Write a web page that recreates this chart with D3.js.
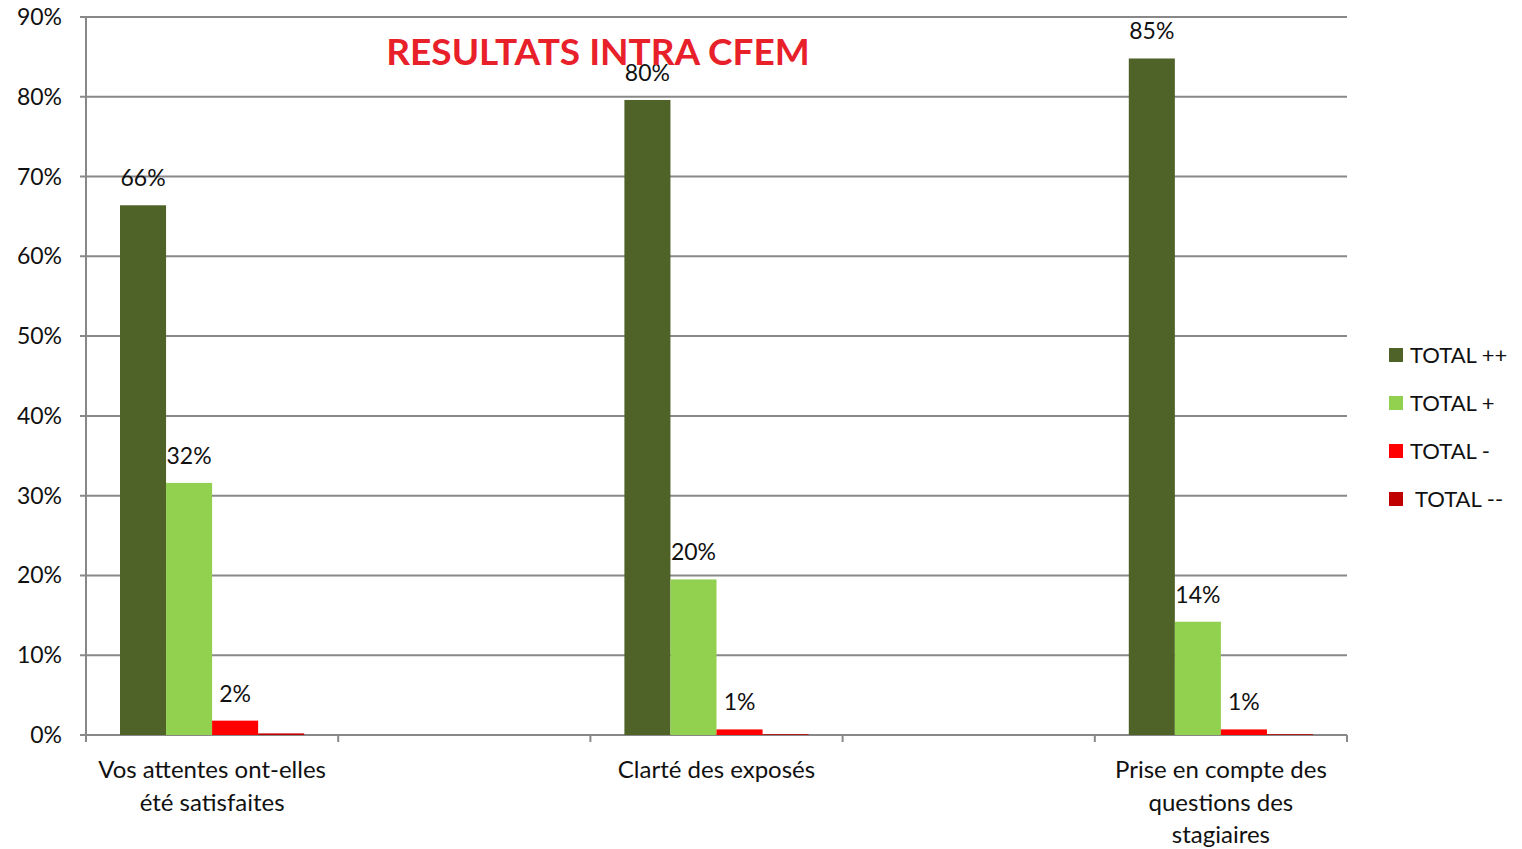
<!DOCTYPE html>
<html lang="fr">
<head>
<meta charset="UTF-8">
<title>RESULTATS INTRA CFEM</title>
<script src="https://d3js.org/d3.v7.min.js"></script>
<style>
  body { margin: 0; background: #fff; }
  svg { display: block; font-family: "Lato", "Open Sans", sans-serif; }
</style>
</head>
<body>
<svg width="1522" height="849"></svg>
<script>
// categories (two blank slots between the questions, like the original sheet)
const categories = [
  ["Vos attentes ont-elles", "été satisfaites"],
  [],
  ["Clarté des exposés"],
  [],
  ["Prise en compte des", "questions des", "stagiaires"]
];
const seriesNames = ["TOTAL ++", "TOTAL +", "TOTAL -", " TOTAL --"];
const seriesColors = ["#4F6228", "#92D050", "#FF0000", "#C00000"];
// values per category, in series order (null = empty slot)
const values = [
  [0.664, 0.316, 0.018, 0.002],
  null,
  [0.796, 0.195, 0.007, 0.001],
  null,
  [0.848, 0.142, 0.007, 0.001]
];
const labels = [
  ["66%", "32%", "2%", ""],
  null,
  ["80%", "20%", "1%", ""],
  null,
  ["85%", "14%", "1%", ""]
];
const yTicks = [0, 0.1, 0.2, 0.3, 0.4, 0.5, 0.6, 0.7, 0.8, 0.9];

const svg = d3.select("svg");
const mLeft = 86, mRight = 1347, mTop = 17, mBottom = 735;

const x0 = d3.scaleBand().domain(d3.range(categories.length)).range([mLeft, mRight]);
const x1 = d3.scaleBand().domain(d3.range(seriesNames.length)).range([34, x0.bandwidth() - 34]);
const y = d3.scaleLinear().domain([0, 0.9]).range([mBottom, mTop]);

// gridlines
svg.append("g").selectAll("line").data(yTicks).join("line")
  .attr("x1", mLeft - 6).attr("x2", mRight)
  .attr("y1", d => y(d)).attr("y2", d => y(d))
  .attr("stroke", "#888").attr("stroke-width", 2);

// y labels
svg.append("g").selectAll("text").data(yTicks).join("text")
  .attr("x", 62).attr("y", d => y(d)).attr("dy", "0.35em")
  .attr("text-anchor", "end").attr("font-size", 23).attr("fill", "#111")
  .text(d => d3.format(".0%")(d));

// y axis line
svg.append("line").attr("x1", mLeft).attr("x2", mLeft).attr("y1", mTop).attr("y2", mBottom + 7)
  .attr("stroke", "#888").attr("stroke-width", 2);

// category tick marks
const bounds = d3.range(categories.length + 1).map(i => mLeft + i * x0.step());
svg.append("g").selectAll("line").data(bounds).join("line")
  .attr("x1", d => d).attr("x2", d => d).attr("y1", mBottom).attr("y2", mBottom + 7)
  .attr("stroke", "#888").attr("stroke-width", 2);

// bars
const groups = svg.append("g").selectAll("g")
  .data(values.map((v, i) => ({ i, v })).filter(d => d.v))
  .join("g").attr("transform", d => `translate(${x0(d.i)},0)`);

groups.selectAll("rect").data(d => d.v.map((v, s) => ({ v, s }))).join("rect")
  .attr("x", d => x1(d.s)).attr("width", x1.bandwidth())
  .attr("y", d => y(d.v)).attr("height", d => mBottom - y(d.v))
  .attr("fill", d => seriesColors[d.s]);

groups.selectAll("text").data(d => labels[d.i].map((t, s) => ({ t, s, v: values[d.i][s] }))).join("text")
  .attr("x", d => x1(d.s) + x1.bandwidth() / 2).attr("y", d => y(d.v) - 19)
  .attr("text-anchor", "middle").attr("font-size", 23).attr("fill", "#111")
  .text(d => d.t);

// category labels
svg.append("g").selectAll("text").data(categories.map((c, i) => ({ c, i }))).join("text")
  .attr("x", d => x0(d.i) + x0.bandwidth() / 2).attr("y", 778)
  .attr("text-anchor", "middle").attr("font-size", 24).attr("fill", "#111")
  .selectAll("tspan").data(d => d.c).join("tspan")
  .attr("x", function() { return this.parentNode.getAttribute("x"); })
  .attr("dy", (d, k) => k ? 32.5 : 0)
  .text(d => d);

// legend
const legend = svg.append("g").selectAll("g").data(seriesNames).join("g")
  .attr("transform", (d, i) => `translate(1389,${355 + i * 48})`);
legend.append("rect").attr("x", 0).attr("y", -7).attr("width", 14).attr("height", 14)
  .attr("fill", (d, i) => seriesColors[i]);
legend.append("text").attr("x", 21).attr("dy", "0.35em").attr("font-size", 22)
  .attr("fill", "#111").style("white-space", "pre").text(d => d);

// title
svg.append("text").attr("x", 598).attr("y", 65).attr("text-anchor", "middle")
  .attr("font-size", 37).attr("font-weight", "bold").attr("fill", "#E8202A")
  .text("RESULTATS INTRA CFEM");
</script>
</body>
</html>
